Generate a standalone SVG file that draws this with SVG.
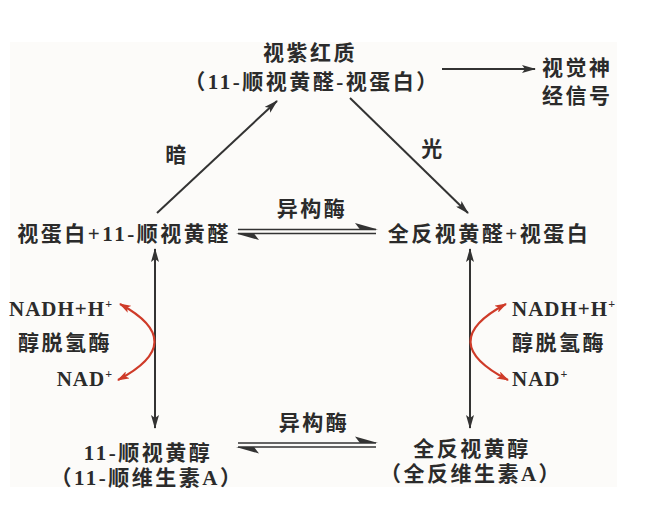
<svg xmlns="http://www.w3.org/2000/svg" width="660" height="512" viewBox="0 0 660 512">
<style>
text{font-family:"Liberation Serif","Noto Sans CJK SC",serif;font-weight:bold;font-size:21px;fill:#2b2b2b;letter-spacing:2.5px}
.c{text-anchor:middle}
.e{text-anchor:end}
.n{letter-spacing:1px}
.ln{stroke:#333;stroke-width:2;fill:none}
.red{stroke:#cf3b29;stroke-width:2.2;fill:none}
.sup{font-size:12px}
</style>
<defs>
<marker id="ah" viewBox="0 0 14 8" refX="13" refY="4" markerWidth="14" markerHeight="8" markerUnits="userSpaceOnUse" orient="auto-start-reverse">
<path d="M0,0 L14,4 L0,8 L3,4 Z" fill="#333"/>
</marker>
<marker id="rh" viewBox="0 0 12 8" refX="11" refY="4" markerWidth="12" markerHeight="8" markerUnits="userSpaceOnUse" orient="auto-start-reverse">
<path d="M0,0 L12,4 L0,8 L3,4 Z" fill="#cf3b29"/>
</marker>
</defs>
<rect x="10" y="42" width="607" height="445" fill="#fcfbf9"/>
<g id="connectors">
<line class="ln" x1="157" y1="213" x2="277" y2="101" marker-end="url(#ah)"/>
<line class="ln" x1="350" y1="98" x2="468" y2="213" marker-end="url(#ah)"/>
<line class="ln" x1="442" y1="69" x2="535" y2="69" marker-end="url(#ah)"/>
<line class="ln" x1="155" y1="249" x2="155" y2="428" marker-start="url(#ah)" marker-end="url(#ah)"/>
<line class="ln" x1="470" y1="249" x2="470" y2="428" marker-start="url(#ah)" marker-end="url(#ah)"/>
<g id="eq-top">
<line x1="238" y1="229.5" x2="376" y2="229.5" stroke="#333" stroke-width="1.6"/>
<line x1="238" y1="233.5" x2="376" y2="233.5" stroke="#333" stroke-width="1.6"/>
<path d="M378,229.5 L355,223 L360,229.5 Z" fill="#333"/>
<path d="M236,233.5 L259,240 L254,233.5 Z" fill="#333"/>
</g>
<g id="eq-bottom">
<line x1="238" y1="443" x2="376" y2="443" stroke="#333" stroke-width="1.6"/>
<line x1="238" y1="447" x2="376" y2="447" stroke="#333" stroke-width="1.6"/>
<path d="M378,443 L355,436.5 L360,443 Z" fill="#333"/>
<path d="M236,447 L259,453.5 L254,447 Z" fill="#333"/>
</g>
<path class="red" d="M120,304 Q190,342 118,380" marker-start="url(#rh)" marker-end="url(#rh)"/>
<path class="red" d="M506,304 Q434,342 508,380" marker-start="url(#rh)" marker-end="url(#rh)"/>
</g>
<g id="rhodopsin">
<text class="c" x="310" y="60">视紫红质</text>
<text class="c" x="312" y="89">（11-顺视黄醛-视蛋白）</text>
</g>
<g id="signal">
<text x="542" y="75">视觉神</text>
<text x="542" y="103">经信号</text>
</g>
<g id="label-dark"><text class="c" x="177" y="162">暗</text></g>
<g id="label-light"><text class="c" x="433" y="156">光</text></g>
<g id="label-iso-top"><text class="c" x="312" y="216">异构酶</text></g>
<g id="cis-retinal"><text class="c" x="124" y="241">视蛋白+11-顺视黄醛</text></g>
<g id="trans-retinal"><text class="c" x="489" y="241">全反视黄醛+视蛋白</text></g>
<g id="left-cofactors">
<text class="e n" x="113" y="316">NADH+H<tspan class="sup" dy="-8">+</tspan></text>
<text class="e" x="112" y="350">醇脱氢酶</text>
<text class="e n" x="113" y="386">NAD<tspan class="sup" dy="-8">+</tspan></text>
</g>
<g id="right-cofactors">
<text class="n" x="512" y="316">NADH+H<tspan class="sup" dy="-8">+</tspan></text>
<text x="512" y="350">醇脱氢酶</text>
<text class="n" x="512" y="386">NAD<tspan class="sup" dy="-8">+</tspan></text>
</g>
<g id="label-iso-bottom"><text class="c" x="314" y="430">异构酶</text></g>
<g id="cis-retinol">
<text class="c" x="148" y="460">11-顺视黄醇</text>
<text class="c" x="147" y="485">（11-顺维生素A）</text>
</g>
<g id="trans-retinol">
<text class="c" x="472" y="456">全反视黄醇</text>
<text class="c" x="471" y="481">（全反维生素A）</text>
</g>
</svg>
